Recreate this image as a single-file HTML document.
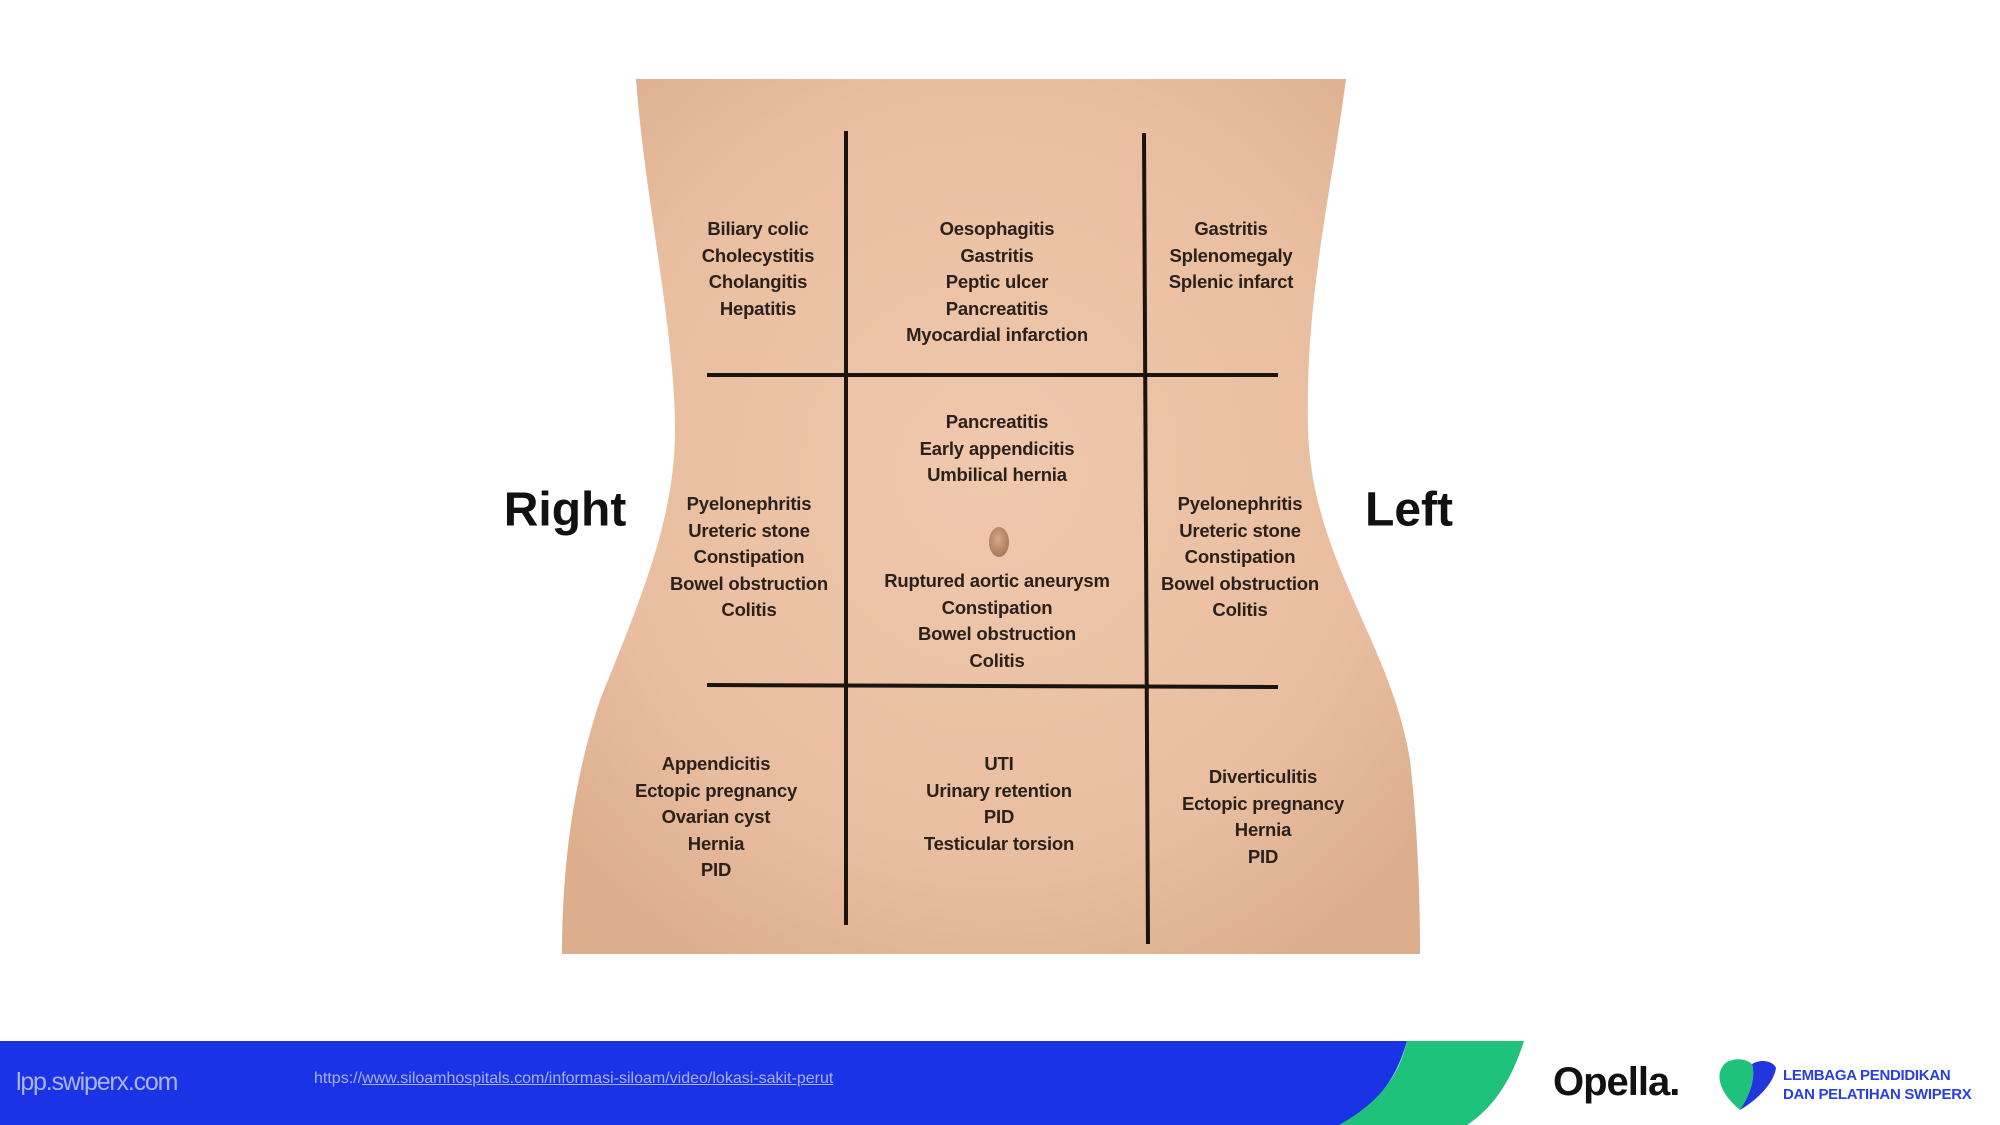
<!DOCTYPE html>
<html><head><meta charset="utf-8"><style>
body{margin:0;width:2000px;height:1125px;overflow:hidden;background:#fff;font-family:"Liberation Sans",sans-serif;position:relative}
.t{position:absolute;transform:translateX(-50%);text-align:center;font-weight:bold;font-size:18.5px;line-height:26.5px;color:#2b211c;white-space:nowrap;letter-spacing:-0.2px}
.big{position:absolute;transform:translate(-50%,-50%);font-weight:bold;font-size:48px;color:#111}
</style></head><body>
<svg width="2000" height="1125" style="position:absolute;left:0;top:0">
<defs>
<radialGradient id="sk" cx="50%" cy="45%" r="65%">
<stop offset="0" stop-color="#f0c8ad"/><stop offset="0.7" stop-color="#e9bd9f"/><stop offset="1" stop-color="#dcae8e"/>
</radialGradient>
<radialGradient id="nv" cx="45%" cy="40%" r="60%"><stop offset="0" stop-color="#d8a987"/><stop offset="1" stop-color="#a8795a"/></radialGradient>
</defs>
<path d="M636 79 L1346 79 C1330 200 1305 300 1308 430 C1312 560 1390 640 1410 760 C1418 830 1420 900 1420 954 L562 954 C562 880 570 790 600 700 C640 600 675 520 675 430 C675 330 645 200 636 79 Z" fill="url(#sk)"/>
<g stroke="#1a1410" stroke-width="4" fill="none">
<line x1="846" y1="131" x2="846" y2="925"/>
<line x1="1144" y1="133" x2="1148" y2="944"/>
<line x1="707" y1="375" x2="1278" y2="375"/>
<line x1="707" y1="685" x2="1278" y2="687"/>
</g>
<ellipse cx="999" cy="542" rx="10" ry="15" fill="url(#nv)"/>
<path d="M0 1041 L1407 1041 C1395 1085 1370 1110 1339 1125 L0 1125 Z" fill="#1a33e6"/>
<path d="M1407 1041 L1524 1041 C1510 1085 1490 1110 1467 1125 L1339 1125 C1375 1105 1398 1080 1407 1041 Z" fill="#1fc27a"/>
<path d="M1727 1062 C1715 1070 1716 1090 1740 1110 C1750 1095 1756 1078 1752 1064 C1745 1058 1735 1058 1727 1062Z" fill="#1fc27a"/>
<path d="M1752 1064 C1762 1058 1774 1062 1776 1068 C1774 1082 1760 1098 1740 1110 C1750 1095 1756 1078 1752 1064Z" fill="#2236e0"/>
</svg>
<div class="t" style="left:758px;top:216px">Biliary colic<br>Cholecystitis<br>Cholangitis<br>Hepatitis</div>
<div class="t" style="left:997px;top:216px">Oesophagitis<br>Gastritis<br>Peptic ulcer<br>Pancreatitis<br>Myocardial infarction</div>
<div class="t" style="left:1231px;top:216px">Gastritis<br>Splenomegaly<br>Splenic infarct</div>
<div class="t" style="left:749px;top:491px">Pyelonephritis<br>Ureteric stone<br>Constipation<br>Bowel obstruction<br>Colitis</div>
<div class="t" style="left:997px;top:409px">Pancreatitis<br>Early appendicitis<br>Umbilical hernia</div>
<div class="t" style="left:997px;top:568px">Ruptured aortic aneurysm<br>Constipation<br>Bowel obstruction<br>Colitis</div>
<div class="t" style="left:1240px;top:491px">Pyelonephritis<br>Ureteric stone<br>Constipation<br>Bowel obstruction<br>Colitis</div>
<div class="t" style="left:716px;top:751px">Appendicitis<br>Ectopic pregnancy<br>Ovarian cyst<br>Hernia<br>PID</div>
<div class="t" style="left:999px;top:751px">UTI<br>Urinary retention<br>PID<br>Testicular torsion</div>
<div class="t" style="left:1263px;top:764px">Diverticulitis<br>Ectopic pregnancy<br>Hernia<br>PID</div>
<div class="big" style="left:565px;top:510px">Right</div>
<div class="big" style="left:1409px;top:510px">Left</div>
<div style="position:absolute;left:16px;top:1068px;font-size:25px;color:#aab3ea;letter-spacing:-1.2px">lpp.swiperx.com</div>
<div style="position:absolute;left:314px;top:1070px;font-size:16px;color:#a8b0ea">https://<u>www.siloamhospitals.com/informasi-siloam/video/lokasi-sakit-perut</u></div>
<div style="position:absolute;left:1553px;top:1060px;font-size:40px;font-weight:bold;color:#111;letter-spacing:-1px">Opella.</div>
<div style="position:absolute;left:1783px;top:1066px;font-size:15px;font-weight:bold;color:#2a3fe0;line-height:19px;letter-spacing:-0.3px">LEMBAGA PENDIDIKAN<br>DAN PELATIHAN SWIPERX</div>
</body></html>
